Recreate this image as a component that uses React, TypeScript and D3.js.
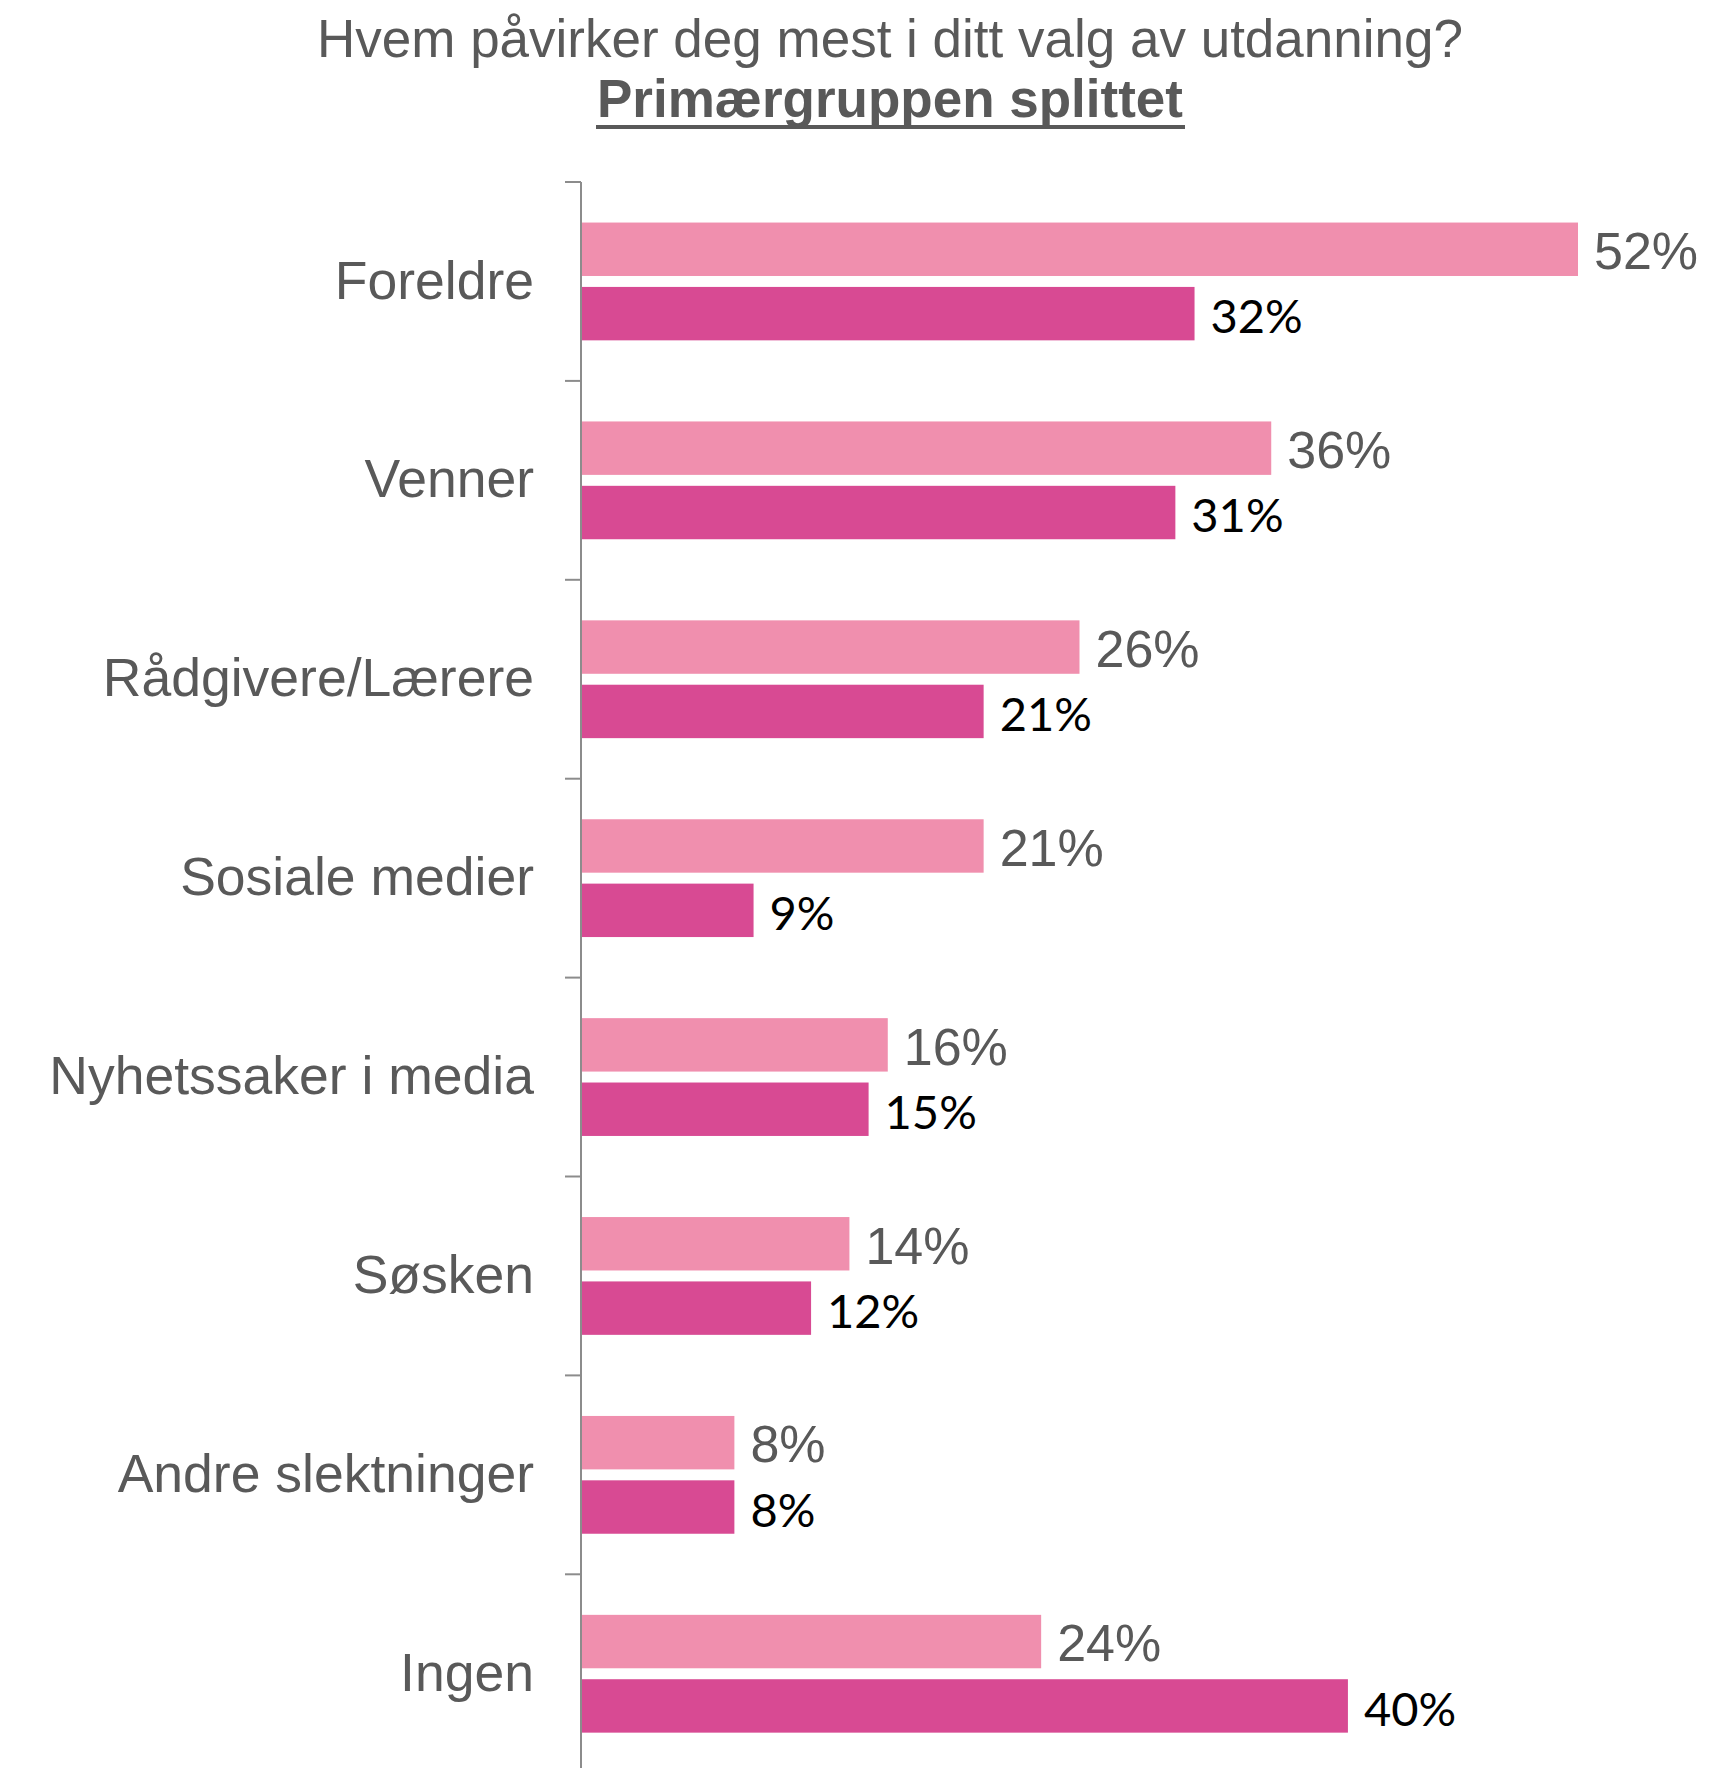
import * as d3 from 'd3';

const categories = [
  'Foreldre',
  'Venner',
  'Rådgivere/Lærere',
  'Sosiale medier',
  'Nyhetssaker i media',
  'Søsken',
  'Andre slektninger',
  'Ingen',
];
const seriesLight = [52, 36, 26, 21, 16, 14, 8, 24];
const seriesDark = [32, 31, 21, 9, 15, 12, 8, 40];
const seriesKeys = ['light', 'dark'];

const W = 1720;
const H = 1768;
const axisX = 581;
const GRAY = '#595959';
const LIGHT = '#F08FAE';
const DARK = '#D84A93';

export default function App() {
  const x = d3.scaleLinear().domain([0, 52]).range([axisX, 1578]);
  const y0 = d3.scaleBand<string>().domain(categories).range([182, 182 + 8 * 198.9]);
  const y1 = d3.scaleBand<string>()
    .domain(seriesKeys)
    .range([0, y0.bandwidth()])
    .paddingInner(0.17)
    .paddingOuter(0.63);

  const ticks = [...categories.map((c) => y0(c) as number), 182 + 8 * 198.9];

  return (
    <div style={{ position: 'absolute', left: 0, top: 0 }}>
      <svg width={W} height={H} style={{ display: 'block', background: '#fff' }}>
        {/* title */}
        <text x={890} y={57} textAnchor="middle" fontFamily="'Liberation Sans', Arial, sans-serif" fontSize={53} fill={GRAY}>
          Hvem påvirker deg mest i ditt valg av utdanning?
        </text>
        <text x={890} y={117} textAnchor="middle" fontFamily="'Liberation Sans', Arial, sans-serif" fontSize={53} fontWeight="bold" fill={GRAY}>
          Primærgruppen splittet
        </text>
        <rect x={596} y={125} width={589} height={4} fill={GRAY} />

        {/* axis */}
        <line x1={axisX} x2={axisX} y1={182} y2={H} stroke="#8c8c8c" strokeWidth={2} />
        {ticks.map((t, i) => (
          <line key={i} x1={axisX - 16} x2={axisX} y1={t} y2={t} stroke="#8c8c8c" strokeWidth={2} />
        ))}

        {categories.map((c, i) => {
          const top = y0(c) as number;
          const yl = top + (y1('light') as number);
          const yd = top + (y1('dark') as number);
          const bh = y1.bandwidth();
          return (
            <g key={c}>
              <text
                x={534}
                y={top + y0.bandwidth() / 2}
                dy="0.32em"
                textAnchor="end"
                fontFamily="'Liberation Sans', Arial, sans-serif"
                fontSize={53.5}
                fill={GRAY}
              >
                {c}
              </text>
              <rect x={axisX + 1} y={yl} width={x(seriesLight[i]) - axisX - 1} height={bh} fill={LIGHT} />
              <rect x={axisX + 1} y={yd} width={x(seriesDark[i]) - axisX - 1} height={bh} fill={DARK} />
              <text
                x={x(seriesLight[i]) + 16}
                y={yl + bh / 2}
                dy="0.38em"
                fontFamily="'Liberation Sans', Arial, sans-serif"
                fontSize={52}
                fill={GRAY}
              >
                {seriesLight[i]}%
              </text>
              <text
                x={x(seriesDark[i]) + 16}
                y={yd + bh / 2}
                dy="0.42em"
                fontFamily="Lato, 'Open Sans', sans-serif"
                fontSize={47}
                fill="#000"
              >
                {seriesDark[i]}%
              </text>
            </g>
          );
        })}
      </svg>
    </div>
  );
}
